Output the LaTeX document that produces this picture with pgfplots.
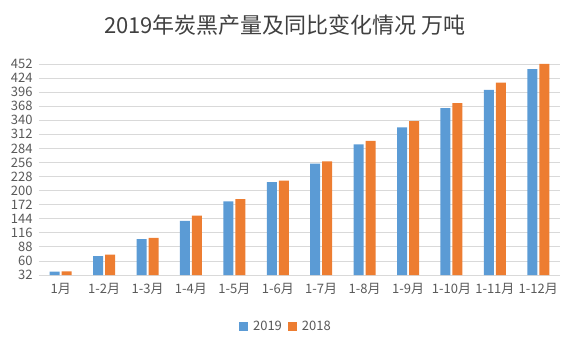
\documentclass[border=0pt]{standalone}
\usepackage{pgfplots}
\pgfplotsset{compat=1.18}
\usepackage{fontspec}
\setmainfont{Noto Sans CJK SC}
\definecolor{cA}{HTML}{5B9BD5}
\definecolor{cB}{HTML}{ED7D31}
\definecolor{tickc}{HTML}{595959}
\definecolor{gridc}{HTML}{D9D9D9}
\definecolor{titlec}{HTML}{404040}
\begin{document}
\begin{tikzpicture}[x=1pt,y=1pt]
\path (0,0) rectangle (580,348);
\node[text=titlec, font=\fontsize{22}{26}\selectfont] at (285,323) {2019年炭黑产量及同比变化情况 万吨};
\begin{axis}[
  at={(39pt,73pt)}, anchor=south west,
  scale only axis, width=521pt, height=211pt,
  ymin=32, ymax=452, ytick={32,60,...,452},
  xmin=-0.5, xmax=11.5, xtick={0,...,11},
  xticklabels={1月,1-2月,1-3月,1-4月,1-5月,1-6月,1-7月,1-8月,1-9月,1-10月,1-11月,1-12月},
  ybar=2pt, bar width=10pt,
  axis line style={draw=none},
  major tick length=0pt,
  ymajorgrids, major grid style={gridc, line width=0.8pt},
  tick label style={color=tickc, font=\fontsize{13}{15}\selectfont},
  yticklabel style={xshift=-3pt},
  xticklabel style={yshift=-5pt},
  /pgf/number format/assume math mode=true,
  legend style={at={(0.474,-0.242)}, anchor=center, draw=none, font=\fontsize{13}{15}\selectfont, text=tickc, legend columns=2,
    /tikz/every odd column/.append style={column sep=3pt},
    /tikz/every even column/.append style={column sep=4pt}},
  legend image code/.code={\fill[#1] (0pt,-4.5pt) rectangle (9pt,4.5pt);},
]
\addplot[fill=cA, draw=none] coordinates {(0,38.6) (1,69.8) (2,103.6) (3,139.5) (4,178.7) (5,217) (6,253.5) (7,292) (8,326) (9,364) (10,400.7) (11,442)};
\addplot[fill=cB, draw=none] coordinates {(0,39) (1,72.4) (2,106) (3,150) (4,183) (5,219.7) (6,258) (7,299) (8,338.5) (9,374) (10,415) (11,452)};
\legend{2019,2018}
\end{axis}
\end{tikzpicture}
\end{document}
